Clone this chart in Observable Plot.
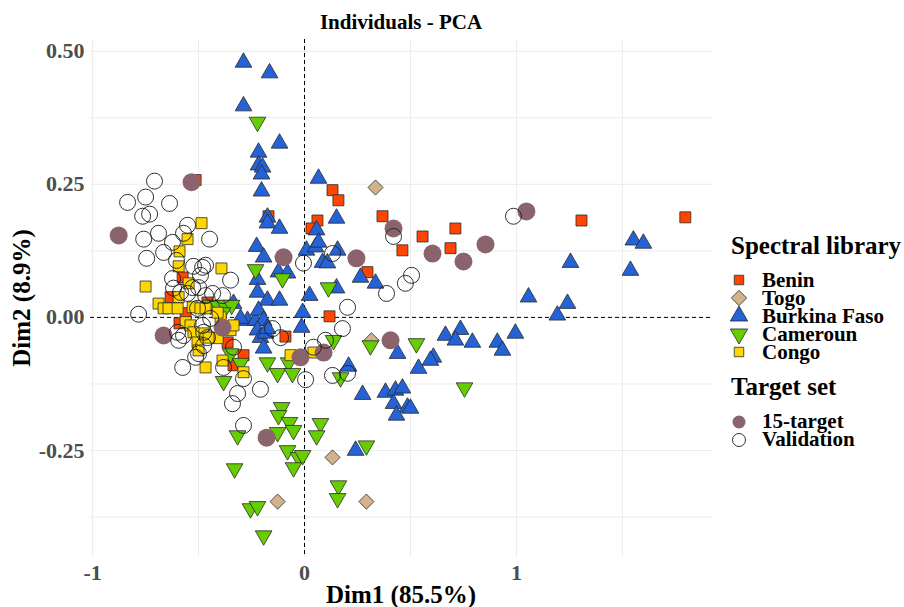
<!DOCTYPE html>
<html>
<head>
<meta charset="utf-8">
<script src="https://cdn.jsdelivr.net/npm/d3@7"></script>
<script src="https://cdn.jsdelivr.net/npm/@observablehq/plot@0.6"></script>
<style>
  html, body { margin: 0; padding: 0; background: white; }
  #wrap { position: relative; width: 904px; height: 607px; overflow: hidden; }
  #wrap > svg, #wrap > figure { position: absolute; left: 0; top: 0; margin: 0; }
  #overlay { pointer-events: none; }
</style>
</head>
<body>
<div id="wrap"></div>
<script>
// ---- Data (Dim1, Dim2) ----
const benin = [
  [-0.514,0.258],[0.132,0.239],[0.160,0.220],[0.061,0.182],[0.033,0.167],[0.368,0.190],
  [0.557,0.152],[0.712,0.167],[0.462,0.126],[0.689,0.130],[0.297,0.085],[1.307,0.182],
  [1.797,0.188],[-0.170,0.190],[0.118,0.002],[-0.090,-0.036],[-0.575,0.075],[-0.632,0.038],
  [-0.561,0.008],[-0.590,-0.011],[-0.458,0.028],[-0.363,-0.047],[-0.288,-0.071],[-0.335,-0.090]
];
const togo = [
  [0.335,0.244],[0.132,-0.263],[-0.127,-0.346],[0.292,-0.346],[0.316,-0.043]
];
const burkina = [
  [-0.288,0.479],[-0.165,0.459],[-0.288,0.397],[-0.118,0.327],[-0.217,0.310],[-0.217,0.286],
  [-0.198,0.282],[-0.203,0.269],[-0.203,0.237],[0.066,0.261],[0.151,0.186],[-0.175,0.188],
  [-0.175,0.177],[-0.118,0.167],[0.057,0.164],[-0.226,0.133],[-0.193,0.113],[0.009,0.126],
  [0.052,0.132],[0.066,0.141],[0.156,0.126],[0.085,0.103],[0.108,0.102],[0.264,0.075],
  [0.335,0.064],[-0.123,0.085],[-0.080,0.083],[-0.222,0.071],[-0.222,0.047],[-0.175,0.032],
  [-0.118,0.032],[0.024,0.041],[0.151,0.055],[-0.335,0.026],[1.552,0.145],[1.599,0.139],
  [1.255,0.103],[1.538,0.088],[1.057,0.038],[1.241,0.026],[1.193,0.004],[0.995,-0.030],
  [0.736,-0.023],[0.665,-0.034],[0.712,-0.043],[0.792,-0.047],[0.910,-0.047],[0.934,-0.062],
  [0.439,-0.068],[0.608,-0.075],[0.594,-0.081],[0.538,-0.096],[0.208,-0.092],[0.274,-0.145],
  [0.382,-0.141],[0.429,-0.137],[0.462,-0.133],[0.420,-0.162],[0.486,-0.169],[0.500,-0.171],
  [0.434,-0.184],[0.241,-0.250],[-0.009,0.009],[-0.014,-0.019],[-0.269,-0.006],[-0.231,-0.006],
  [-0.217,0.013],[-0.193,-0.006],[-0.222,-0.024],[-0.208,-0.038],[-0.184,-0.030],[-0.175,-0.021],
  [-0.193,-0.058],[-0.302,-0.002]
];
const cameroun = [
  [-0.222,0.367],[-0.231,0.090],[-0.104,0.073],[0.113,0.056],[-0.443,0.023],[-0.410,0.023],
  [-0.377,0.023],[-0.344,0.023],[-0.387,0.009],[-0.349,-0.068],[-0.302,-0.086],[-0.382,-0.120],
  [-0.175,-0.085],[-0.127,-0.105],[-0.075,-0.085],[-0.057,-0.105],[-0.108,-0.169],[-0.123,-0.184],
  [-0.071,-0.197],[-0.127,-0.216],[-0.052,-0.212],[-0.316,-0.222],[0.075,-0.199],[0.057,-0.222],
  [-0.080,-0.250],[-0.028,-0.263],[-0.009,-0.259],[-0.052,-0.282],[-0.330,-0.284],[0.160,-0.316],
  [0.156,-0.340],[0.292,-0.241],[-0.255,-0.359],[-0.222,-0.355],[-0.193,-0.410],[0.170,-0.113],
  [0.311,-0.053],[0.137,-0.043],[0.528,-0.049],[0.755,-0.132]
];
const congo = [
  [-0.486,0.177],[-0.552,0.147],[-0.590,0.124],[-0.594,0.096],[-0.392,0.092],[-0.750,0.058],
  [-0.547,0.064],[-0.594,0.038],[-0.689,0.026],[-0.665,0.017],[-0.642,0.017],[-0.599,0.017],
  [-0.528,0.019],[-0.491,0.017],[-0.467,0.017],[-0.561,-0.009],[-0.538,-0.015],[-0.476,-0.030],
  [-0.524,-0.028],[-0.410,-0.039],[-0.453,-0.038],[-0.349,-0.024],[-0.335,-0.015],[-0.396,0.000],
  [-0.410,0.009],[-0.505,-0.047],[-0.500,-0.062],[-0.467,-0.094],[-0.387,-0.081],[-0.288,-0.103],
  [-0.066,-0.071],[0.042,-0.066]
];
const target15 = [
  [-0.533,0.254],[-0.877,0.154],[-0.099,0.113],[0.245,0.111],[0.420,0.167],[0.604,0.120],
  [0.750,0.105],[0.854,0.137],[1.047,0.199],[-0.665,-0.034],[-0.387,-0.019],[-0.019,-0.075],
  [0.090,-0.066],[0.406,-0.043],[-0.179,-0.226]
];
const validation = [
  [-0.708,0.256],[-0.835,0.216],[-0.750,0.226],[-0.637,0.214],[-0.764,0.190],[-0.731,0.194],
  [-0.689,0.158],[-0.759,0.147],[-0.745,0.111],[-0.665,0.122],[-0.623,0.141],[-0.552,0.173],
  [-0.571,0.158],[-0.448,0.147],[-0.604,0.107],[-0.524,0.096],[-0.481,0.094],[-0.783,0.006],
  [-0.623,0.073],[-0.618,0.055],[-0.585,0.047],[-0.552,0.045],[-0.528,0.056],[-0.491,0.079],
  [-0.500,0.056],[-0.467,0.041],[-0.434,0.045],[-0.505,0.017],[-0.443,-0.002],[-0.481,-0.015],
  [-0.599,-0.028],[-0.571,-0.034],[-0.476,-0.028],[-0.387,0.041],[-0.349,0.070],[-0.467,0.098],
  [-0.594,-0.043],[-0.575,-0.094],[-0.500,-0.068],[-0.476,-0.053],[-0.514,-0.075],[-0.382,-0.094],
  [-0.335,-0.056],[-0.288,-0.115],[-0.316,-0.143],[-0.340,-0.162],[-0.208,-0.135],[-0.288,-0.203],
  [-0.458,-0.038],[-0.005,0.102],[0.132,0.120],[0.203,0.019],[0.179,-0.021],[0.042,-0.056],
  [0.099,-0.043],[-0.113,-0.038],[-0.151,-0.021],[0.132,-0.109],[0.005,-0.117],[0.387,0.045],
  [0.476,0.064],[0.505,0.079],[0.420,0.152],[0.986,0.190],[0.203,-0.105]
];

const xMajor = [-1, 0, 1];
const xMinor = [-0.5, 0.5, 1.5];
const yMajor = [-0.25, 0, 0.25, 0.5];
const yMinor = [-0.375, -0.125, 0.125, 0.375];
const libraryNames = ["Benin", "Togo", "Burkina Faso", "Cameroun", "Congo"];
const targetNames = ["15-target", "Validation"];

const colors = {
  "Benin": "#FF4500", "Togo": "#D2B48C", "Burkina Faso": "#2462D6",
  "Cameroun": "#66CD00", "Congo": "#FFD700", "target": "#8B636C"
};

// triangle pointing down (flipped d3.symbolTriangle)
const triangleDown = {
  draw(context, size) {
    const sqrt3 = Math.sqrt(3);
    const y = -Math.sqrt(size / (sqrt3 * 3));
    context.moveTo(0, -y * 2);
    context.lineTo(-sqrt3 * y, y);
    context.lineTo(sqrt3 * y, y);
    context.closePath();
  }
};

const stroke = "#2a2a2a";
const sw = 0.8;
const X = d => d[0], Y = d => d[1];

const chart = Plot.plot({
  width: 720,
  height: 607,
  marginLeft: 90,
  marginRight: 7,
  marginTop: 39,
  marginBottom: 50,
  x: {domain: [-1.01, 1.93]},
  y: {domain: [-0.451, 0.522]},
  style: {fontFamily: "'Liberation Serif', 'Times New Roman', serif", fontWeight: "bold", fontSize: "22px", color: "#4d4d4d", background: "transparent"},
  marks: [
    Plot.gridX(xMinor, {stroke: "#ececec", strokeOpacity: 1, strokeWidth: 1}),
    Plot.gridX(xMajor, {stroke: "#ececec", strokeOpacity: 1, strokeWidth: 1}),
    Plot.gridY(yMinor, {stroke: "#ececec", strokeOpacity: 1, strokeWidth: 1}),
    Plot.gridY(yMajor, {stroke: "#ececec", strokeOpacity: 1, strokeWidth: 1}),
    Plot.ruleX([0], {stroke: "black", strokeWidth: 1, strokeDasharray: "4,3"}),
    Plot.ruleY([0], {stroke: "black", strokeWidth: 1, strokeDasharray: "4,3"}),
    Plot.axisX(xMajor, {tickSize: 0, tickPadding: 7, tickFormat: d => String(d), label: null, fill: "#4d4d4d", fontSize: 22}),
    Plot.axisY(yMajor, {tickSize: 0, tickPadding: 6, tickFormat: d => d.toFixed(2), label: null, fill: "#4d4d4d", fontSize: 22}),
    Plot.dot(benin, {x: X, y: Y, symbol: "square", r: 6.2, fill: colors["Benin"], stroke, strokeWidth: sw}),
    Plot.dot(togo, {x: X, y: Y, symbol: "diamond2", r: 6.8, fill: colors["Togo"], stroke, strokeWidth: sw}),
    Plot.dot(burkina, {x: X, y: Y, symbol: "triangle", r: 6.2, fill: colors["Burkina Faso"], stroke, strokeWidth: sw}),
    Plot.dot(cameroun, {x: X, y: Y, symbol: triangleDown, r: 6.2, fill: colors["Cameroun"], stroke, strokeWidth: sw}),
    Plot.dot(congo, {x: X, y: Y, symbol: "square", r: 6.2, fill: colors["Congo"], stroke, strokeWidth: sw}),
    Plot.dot(target15, {x: X, y: Y, r: 9, fill: colors.target, stroke: "none"}),
    Plot.dot(validation, {x: X, y: Y, r: 8, fill: "none", stroke: "#1a1a1a", strokeWidth: 0.9})
  ]
});

const wrap = document.getElementById("wrap");
wrap.appendChild(chart);

// ---- Overlay: title, axis titles, legend ----
const ns = "http://www.w3.org/2000/svg";
const ov = d3.select(wrap).append("svg")
  .attr("id", "overlay")
  .attr("width", 904).attr("height", 607)
  .style("font-family", "'Liberation Serif', 'Times New Roman', serif")
  .style("font-weight", "bold");

ov.append("text").attr("x", 401).attr("y", 29).attr("text-anchor", "middle")
  .attr("font-size", 21).attr("fill", "black").text("Individuals - PCA");
ov.append("text").attr("x", 401).attr("y", 603).attr("text-anchor", "middle")
  .attr("font-size", 25).attr("fill", "black").text("Dim1 (85.5%)");
ov.append("text").attr("transform", "translate(30,298) rotate(-90)").attr("text-anchor", "middle")
  .attr("font-size", 25).attr("fill", "black").text("Dim2 (8.9%)");

// legend
const lg = ov.append("g");
lg.append("text").attr("x", 731).attr("y", 254).attr("font-size", 25).attr("fill", "black").text("Spectral library");
const libSymbols = [d3.symbolSquare, d3.symbolDiamond2, d3.symbolTriangle, triangleDown, d3.symbolSquare];
const libSizes = [90, 150, 130, 130, 90];
libraryNames.forEach((name, i) => {
  const yb = 287 + 18 * i;
  lg.append("path")
    .attr("transform", `translate(739,${yb - 7})`)
    .attr("d", d3.symbol(libSymbols[i], libSizes[i])())
    .attr("fill", colors[name]).attr("stroke", stroke).attr("stroke-width", sw);
  lg.append("text").attr("x", 762).attr("y", yb).attr("font-size", 21).attr("fill", "black").text(name);
});
lg.append("text").attr("x", 731).attr("y", 395).attr("font-size", 25).attr("fill", "black").text("Target set");
targetNames.forEach((name, i) => {
  const yb = 428 + 18 * i;
  lg.append("circle").attr("cx", 739).attr("cy", yb - 6).attr("r", 6.5)
    .attr("fill", i === 0 ? colors.target : "white")
    .attr("stroke", i === 0 ? "none" : "#1a1a1a").attr("stroke-width", 0.9);
  lg.append("text").attr("x", 762).attr("y", yb).attr("font-size", 21).attr("fill", "black").text(name);
});
</script>
</body>
</html>
